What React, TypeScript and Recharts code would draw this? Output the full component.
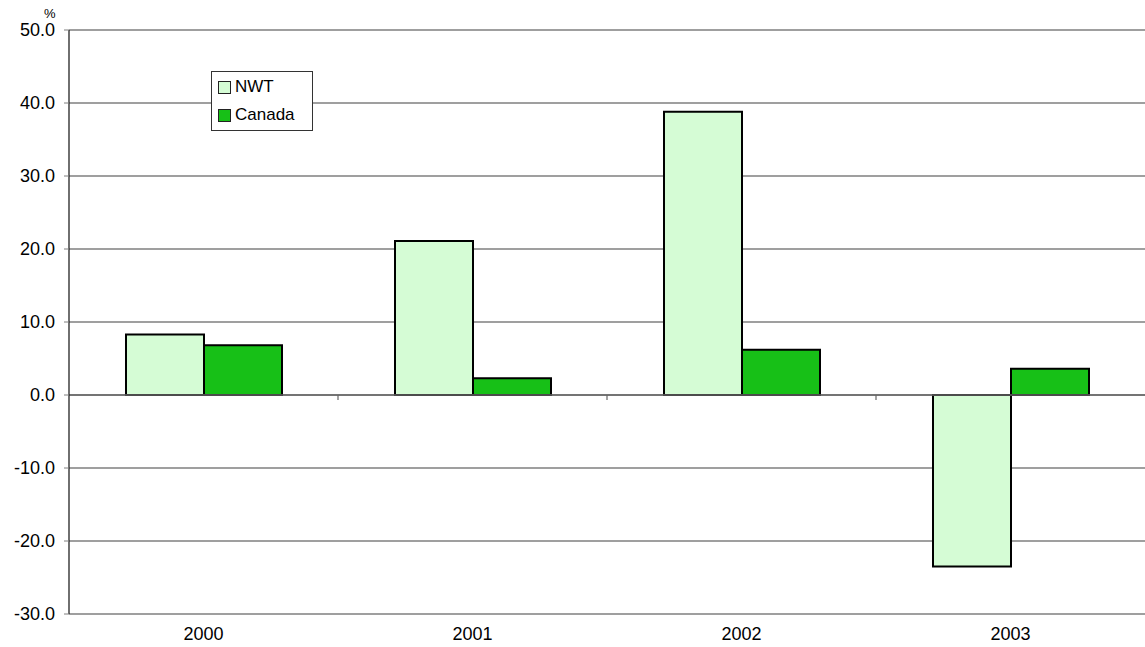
import { BarChart, Bar, XAxis, YAxis, CartesianGrid, ReferenceLine } from "recharts";

const years = ["2000", "2001", "2002", "2003"];
const nwt = [8.3, 21.1, 38.8, -23.5];
const canada = [6.8, 2.3, 6.2, 3.6];
const yTicks = [-30, -20, -10, 0, 10, 20, 30, 40, 50];

const data = years.map((year, i) => ({ year, nwt: nwt[i], canada: canada[i] }));

const W = 1145;
const H = 647;
const TOP = 30;
const AXIS_W = 69;
const XAXIS_H = 33;
const plotH = H - TOP - XAXIS_H;
const plotW = W - AXIS_W;
const zeroY = TOP + (plotH * 50) / 80;
const halfBand = plotW / years.length / 2;

const LIGHT = "#d5fcd5";
const DARK = "#17c017";
const FONT = "'Liberation Sans', Arial, sans-serif";

function YearTick(props: any) {
  const { x, payload, index } = props;
  return (
    <g>
      {index < years.length - 1 && (
        <line x1={x + halfBand} x2={x + halfBand} y1={zeroY} y2={zeroY + 5} stroke="#666" strokeWidth={1.2} />
      )}
      <text x={x} y={H - 7} textAnchor="middle" fontSize={18} fontFamily={FONT} fill="#000">
        {payload.value}
      </text>
    </g>
  );
}

function LegendBox() {
  const items = [
    { name: "NWT", color: LIGHT },
    { name: "Canada", color: DARK },
  ];
  return (
    <div
      style={{
        position: "absolute",
        left: 211,
        top: 71,
        width: 100,
        height: 58,
        background: "#fff",
        border: "1px solid #333",
        fontFamily: FONT,
        fontSize: 17,
        color: "#000",
      }}
    >
      {items.map((it, i) => (
        <div key={it.name} style={{ display: "flex", alignItems: "center", height: 28, marginTop: i === 0 ? 1 : 0 }}>
          <span
            style={{
              display: "inline-block",
              width: 11,
              height: 11,
              marginLeft: 6,
              marginRight: 4,
              background: it.color,
              border: "1px solid #222",
            }}
          />
          {it.name}
        </div>
      ))}
    </div>
  );
}

export default function App() {
  return (
    <div style={{ position: "absolute", left: 0, top: 0, width: W, height: H, background: "#fff" }}>
      <BarChart
        width={W}
        height={H}
        data={data}
        margin={{ top: TOP, right: 0, bottom: 0, left: 0 }}
        barGap={0}
        barSize={78}
      >
        <CartesianGrid vertical={false} stroke="#7f7f7f" strokeWidth={1.3} />
        <XAxis
          dataKey="year"
          height={XAXIS_H}
          axisLine={false}
          tickLine={false}
          tick={<YearTick />}
          interval={0}
        />
        <YAxis
          width={AXIS_W}
          domain={[-30, 50]}
          ticks={yTicks}
          interval={0}
          tickFormatter={(v: number) => v.toFixed(1)}
          axisLine={{ stroke: "#222", strokeWidth: 1.3 }}
          tickLine={{ stroke: "#7f7f7f" }}
          tickSize={5}
          tickMargin={9}
          tick={{ fill: "#000", fontSize: 18, fontFamily: FONT }}
        />
        <ReferenceLine y={0} stroke="#666" strokeWidth={1.3} />
        <Bar dataKey="nwt" name="NWT" fill={LIGHT} stroke="#000" strokeWidth={2} isAnimationActive={false} />
        <Bar dataKey="canada" name="Canada" fill={DARK} stroke="#000" strokeWidth={2} isAnimationActive={false} />
      </BarChart>
      <LegendBox />
      <div
        style={{
          position: "absolute",
          left: 44,
          top: 6,
          fontFamily: FONT,
          fontSize: 13,
          color: "#000",
        }}
      >
        %
      </div>
    </div>
  );
}
